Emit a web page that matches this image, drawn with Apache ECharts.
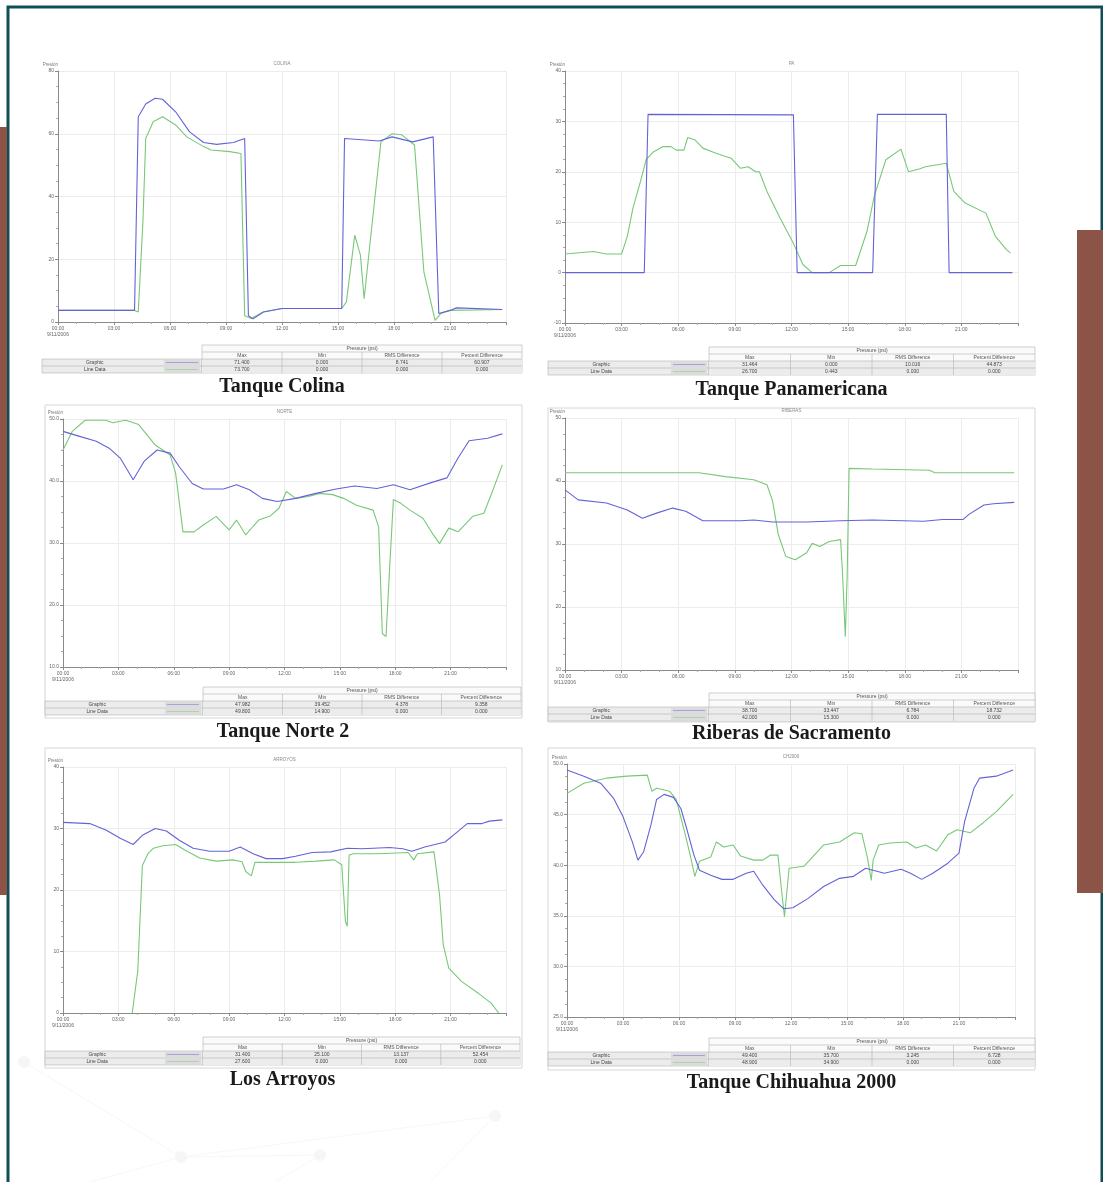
<!DOCTYPE html>
<html>
<head>
<meta charset="utf-8">
<title>Tanques - presión</title>
<script src="https://cdn.jsdelivr.net/npm/echarts@6/dist/echarts.min.js"></script>
<style>
  html, body { margin: 0; padding: 0; background: #fff; }
  #main { width: 1103px; height: 1182px; }
</style>
</head>
<body>
<div id="main"></div>
<script>
// datos: [hora, presión]
const colinaBlue = [[0,3.7],[4.1,3.7],[4.3,65.4],[4.7,69.5],[5.2,71.3],[5.6,71],[6.3,67],[7.05,60.6],[7.8,57.2],[8.5,56.6],[9.4,57.2],[10,58.5],[10.2,2],[10.45,1],[11,3.2],[12,4.3],[15.2,4.3],[15.35,58.5],[17.2,57.7],[17.9,59],[19,57.4],[20.1,59],[20.4,2.7],[21,3.7],[21.35,4.5],[23.8,4]];
const colinaGreen = [[0,3.7],[4.1,3.7],[4.3,3.2],[4.55,32],[4.7,58.5],[5.1,63.8],[5.6,65.4],[6.3,62.8],[6.9,59],[7.8,55.9],[8.2,54.8],[9.2,54.3],[9.8,53.7],[10,2],[10.35,1.1],[11,3.2],[12,4.3],[15.2,4.3],[15.45,6.4],[15.9,27.7],[16.2,21.3],[16.4,7.4],[16.8,29.8],[17.3,57.4],[17.9,60],[18.4,59.7],[19.1,56.4],[19.6,16],[20.2,0.5],[20.5,2.7],[21,3.7],[23.8,4]];

const panamBlue = [[0,0],[4.2,0],[4.4,31.4],[12.1,31.3],[12.3,0],[16.3,0],[16.55,31.4],[20.2,31.4],[20.35,0],[23.7,0]];
const panamGreen = [[0,3.7],[1.5,4.2],[2.2,3.7],[3,3.7],[3.3,7.2],[3.6,12.8],[4,18.1],[4.3,22.4],[4.7,24],[5.2,25],[5.6,25],[5.9,24.3],[6.3,24.3],[6.5,26.8],[6.9,26.3],[7.3,24.7],[8,23.7],[8.8,22.7],[9.3,20.7],[9.7,21],[10.1,20],[10.3,20],[10.7,16.1],[11.4,10.8],[12.1,5.8],[12.6,1.6],[13.1,0],[14,0],[14.6,1.4],[15.4,1.4],[16,8.2],[16.4,15.4],[17,22.4],[17.8,24.5],[18.2,20],[18.8,20.6],[19.1,21],[20.2,21.7],[20.6,16.1],[21.2,13.8],[22.3,11.8],[22.8,7.2],[23.4,4.5],[23.6,3.9]];

const norteBlue = [[0,48],[0.9,47.2],[1.8,46.4],[2.5,45.3],[3.1,43.7],[3.8,40.2],[4.4,43.2],[5.1,45],[5.8,44.5],[6.3,42.3],[7,39.6],[7.6,38.7],[8.7,38.7],[9.4,39.4],[10.1,38.6],[10.8,37.2],[11.6,36.7],[12.6,37.2],[13.7,38],[14.8,38.7],[15.8,39.2],[17,38.8],[17.9,39.4],[18.8,38.6],[19.9,39.7],[20.8,40.5],[21.4,43.7],[22,46.5],[23,46.9],[23.8,47.6]];
const norteGreen = [[0,45],[0.5,48],[1.2,49.8],[2.3,49.8],[2.7,49.4],[3.4,49.8],[4.1,49.1],[5,45.8],[5.8,44.2],[6.1,41.3],[6.5,31.8],[7.1,31.8],[7.6,32.9],[8.3,34.3],[9,32.1],[9.4,33.7],[9.9,31.3],[10.3,32.7],[10.6,33.7],[11.2,34.3],[11.7,35.6],[12.1,38.3],[12.6,37.2],[13.3,37.5],[13.9,38],[14.6,37.8],[15.2,37.2],[15.9,36.1],[16.8,35.3],[17.1,32.6],[17.3,15.4],[17.5,14.9],[17.7,26.2],[17.9,37],[18.3,36.4],[18.8,35.3],[19.5,34],[20,31.6],[20.4,29.9],[20.9,32.4],[21.4,31.8],[22.2,34.3],[22.8,34.8],[23.3,38.6],[23.8,42.6]];

const riberasBlue = [[0,38.6],[0.7,37],[2.2,36.5],[3.3,35.4],[4.1,34.1],[4.85,34.9],[5.7,35.7],[6.4,35.2],[7.3,33.7],[9.3,33.7],[10,33.8],[11,33.5],[12.8,33.5],[14.6,33.7],[16.3,33.8],[19,33.6],[20,33.9],[21.1,33.9],[21.4,34.7],[22.2,36.2],[22.7,36.4],[23.8,36.6]];
const riberasGreen = [[0,41.3],[7.1,41.3],[8.5,40.7],[10,40.2],[10.7,39.4],[11,36.8],[11.3,31.5],[11.7,28],[12.2,27.5],[12.8,28.6],[13.1,30.1],[13.5,29.6],[14,30.4],[14.6,30.7],[14.7,25.6],[14.85,15.3],[14.95,25],[15.05,42],[16.3,41.9],[19.3,41.7],[19.6,41.3],[23.8,41.3]];

const arroyosBlue = [[0,31],[1.45,30.8],[2.35,29.7],[3.1,28.4],[3.8,27.4],[4.3,28.9],[5,30],[5.6,29.6],[6.3,28.1],[7.05,26.8],[7.95,26.3],[9,26.3],[9.6,27],[10.3,25.9],[11,25.1],[11.9,25.1],[12.6,25.5],[13.5,26.1],[14.5,26.2],[15.4,26.8],[16.2,26.7],[17.7,26.9],[18.4,26.7],[18.9,26.3],[19.6,27],[20.7,27.8],[21.3,29.3],[21.9,30.8],[22.7,30.8],[23.1,31.2],[23.8,31.4]];
const arroyosGreen = [[3.75,0],[4.05,6.8],[4.3,24],[4.6,25.9],[4.9,26.8],[5.4,27.2],[6.1,27.4],[6.6,26.5],[7.4,25.2],[8.3,24.7],[9.2,24.9],[9.7,24.6],[9.9,23],[10.2,22.3],[10.4,24.5],[11.2,24.5],[12.6,24.5],[13.7,24.7],[14.7,24.9],[15.1,24.1],[15.3,14.9],[15.4,14.1],[15.5,25.7],[15.75,25.9],[17.1,25.9],[18.7,26.1],[19,24.9],[19.2,25.9],[20.1,26.2],[20.4,19.2],[20.6,11.1],[20.9,7.3],[21.6,5.1],[22.5,3.2],[23.2,1.6],[23.6,0]];

const chihuaBlue = [[0,49.4],[0.9,48.8],[1.8,48.1],[2.5,46.6],[3,44.8],[3.5,42.3],[3.8,40.5],[4.1,41.3],[4.5,44],[4.8,46.5],[5.2,47],[5.7,46.7],[6.1,45.6],[6.4,43.7],[6.8,41],[7.1,39.5],[7.7,39],[8.3,38.6],[8.9,38.6],[9.6,39.2],[10,39.4],[10.5,38],[11.1,36.6],[11.6,35.7],[12.1,35.8],[12.9,36.7],[13.75,37.9],[14.6,38.7],[15.35,38.9],[16,39.7],[16.4,39.5],[17,39.2],[17.9,39.6],[18.4,39.2],[19,38.6],[19.6,39.2],[20.4,40.2],[21,41.2],[21.3,44.3],[21.8,47.6],[22.1,48.6],[23,48.8],[23.9,49.4]];
const chihuaGreen = [[0,47.1],[0.9,48.1],[2.1,48.6],[3.2,48.8],[4.3,48.9],[4.55,47.3],[4.8,47.6],[5.5,47.3],[5.85,46.5],[6.3,43.3],[6.6,41],[6.85,38.9],[7.1,40.4],[7.7,40.8],[8,42.3],[8.4,41.8],[8.9,42],[9.3,40.9],[10,40.5],[10.5,40.5],[10.9,41],[11.3,41],[11.5,37.4],[11.65,34.9],[11.9,39.7],[12.7,39.9],[13,40.5],[13.75,42],[14.6,42.3],[15.4,43.2],[15.8,43.1],[16.1,40.7],[16.3,38.5],[16.4,40.5],[16.7,42],[17.3,42.2],[18.2,42.3],[18.7,41.7],[19.2,42],[19.8,41.4],[19.9,41.4],[20.4,43],[20.9,43.5],[21.6,43.2],[22.3,44.2],[23,45.3],[23.9,47]];

// tablas de resumen (Max, Min, RMS Difference, Percent Difference)
const rowNames = ['Graphic', 'Line Data'];
const colNames = ['Max', 'Min', 'RMS Difference', 'Percent Difference'];
const tblColina = [['71.400', '0.000', '8.741', '60.907'], ['73.700', '0.000', '0.000', '0.000']];
const tblPanam = [['31.464', '0.000', '10.016', '44.873'], ['26.700', '0.443', '0.000', '0.000']];
const tblNorte = [['47.982', '39.452', '4.378', '9.358'], ['49.800', '14.900', '0.000', '0.000']];
const tblRiberas = [['38.700', '33.447', '6.784', '18.732'], ['42.000', '15.300', '0.000', '0.000']];
const tblArroyos = [['31.400', '25.100', '13.137', '52.454'], ['27.600', '0.000', '0.000', '0.000']];
const tblChihua = [['49.400', '35.700', '3.245', '6.728'], ['48.900', '34.900', '0.000', '0.000']];

const BLUE = '#6363d6';
const GREEN = '#78c878';

const chart = echarts.init(document.getElementById('main'));

// paneles: posición de la zona de trazado en px
const panels = [
  { name: 'Tanque Colina', tag: 'COLINA', left: 58, top: 71, width: 448, height: 251, min: 0, max: 80, step: 20, dec: 0, blue: colinaBlue, green: colinaGreen, tbl: tblColina, tx: 42, ty: 345, tx1: 522, split: 202, ttl: 387 },
  { name: 'Tanque Panamericana', tag: 'PA', left: 565, top: 71, width: 453, height: 252, min: -10, max: 40, step: 10, dec: 0, blue: panamBlue, green: panamGreen, tbl: tblPanam, tx: 548, ty: 347, tx1: 1035, split: 709, ttl: 390 },
  { name: 'Tanque Norte 2', tag: 'NORTE', left: 63, top: 419, width: 443, height: 248, min: 10, max: 50, step: 10, dec: 1, blue: norteBlue, green: norteGreen, tbl: tblNorte, tx: 45, ty: 687, tx1: 521, split: 203, ttl: 732 },
  { name: 'Riberas de Sacramento', tag: 'RIBERAS', left: 565, top: 418, width: 453, height: 252, min: 10, max: 50, step: 10, dec: 0, blue: riberasBlue, green: riberasGreen, tbl: tblRiberas, tx: 548, ty: 693, tx1: 1035, split: 709, ttl: 734 },
  { name: 'Los Arroyos', tag: 'ARROYOS', left: 63, top: 767, width: 443, height: 246, min: 0, max: 40, step: 10, dec: 0, blue: arroyosBlue, green: arroyosGreen, tbl: tblArroyos, tx: 45, ty: 1037, tx1: 520, split: 203, ttl: 1080 },
  { name: 'Tanque Chihuahua 2000', tag: 'CH2000', left: 567, top: 764, width: 448, height: 253, min: 25, max: 50, step: 5, dec: 1, blue: chihuaBlue, green: chihuaGreen, tbl: tblChihua, tx: 548, ty: 1038, tx1: 1035, split: 709, ttl: 1083 }
];

const grids = [], xAxes = [], yAxes = [], series = [];
const graphics = [];

// marco y barras decorativas
graphics.push({ type: 'rect', shape: { x: 8, y: 7, width: 1094, height: 1180 }, style: { fill: null, stroke: '#0f4f57', lineWidth: 3 }, z: 1 });
graphics.push({ type: 'rect', shape: { x: 0, y: 127, width: 7, height: 768 }, style: { fill: '#8c5447' }, z: 2 });
graphics.push({ type: 'rect', shape: { x: 1077, y: 230, width: 26, height: 663 }, style: { fill: '#8c5447' }, z: 2 });

// red decorativa muy tenue abajo a la izquierda
const dots = [[24, 1062], [181, 1157], [320, 1155], [495, 1116]];
const netColor = '#f7f7f7';
[[0, 1], [1, 2], [1, 3]].forEach(p => {
  graphics.push({ type: 'line', shape: { x1: dots[p[0]][0], y1: dots[p[0]][1], x2: dots[p[1]][0], y2: dots[p[1]][1] }, style: { stroke: netColor, lineWidth: 1 }, z: 0 });
});
graphics.push({ type: 'line', shape: { x1: 181, y1: 1157, x2: 90, y2: 1182 }, style: { stroke: netColor }, z: 0 });
graphics.push({ type: 'line', shape: { x1: 320, y1: 1155, x2: 275, y2: 1182 }, style: { stroke: netColor }, z: 0 });
graphics.push({ type: 'line', shape: { x1: 495, y1: 1116, x2: 430, y2: 1182 }, style: { stroke: netColor }, z: 0 });
dots.forEach(d => graphics.push({ type: 'circle', shape: { cx: d[0], cy: d[1], r: 6 }, style: { fill: '#f6f6f6' }, z: 0 }));

function fmtHour(v) {
  if (v % 3 !== 0 || v >= 24) return '';
  const h = (v < 10 ? '0' : '') + v + ':00';
  return v === 0 ? h + '\n9/11/2006' : h;
}

function addTable(p) {
  const x0 = p.tx, y0 = p.ty, x1 = p.tx1, s = p.split, rh = 7;
  const line = '#b4b4b4';
  // parte izquierda: filas de series
  graphics.push({ type: 'rect', shape: { x: x0, y: y0 + 2 * rh, width: s - x0, height: 2 * rh }, style: { fill: '#ececec', stroke: line, lineWidth: 0.6 }, z: 3 });
  graphics.push({ type: 'line', shape: { x1: x0, y1: y0 + 3 * rh, x2: x1, y2: y0 + 3 * rh }, style: { stroke: line, lineWidth: 0.6 }, z: 4 });
  // parte derecha
  graphics.push({ type: 'rect', shape: { x: s, y: y0, width: x1 - s, height: 4 * rh }, style: { fill: '#fafafa', stroke: line, lineWidth: 0.6 }, z: 3 });
  graphics.push({ type: 'line', shape: { x1: s, y1: y0 + rh, x2: x1, y2: y0 + rh }, style: { stroke: line, lineWidth: 0.6 }, z: 4 });
  graphics.push({ type: 'line', shape: { x1: s, y1: y0 + 2 * rh, x2: x1, y2: y0 + 2 * rh }, style: { stroke: line, lineWidth: 0.6 }, z: 4 });
  graphics.push({ type: 'rect', shape: { x: s, y: y0 + 2 * rh, width: x1 - s, height: 2 * rh }, style: { fill: '#ececec' }, z: 3 });
  graphics.push({ type: 'text', x: (s + x1) / 2, y: y0 + rh / 2, style: { text: 'Pressure (psi)', fontSize: 5, fill: '#555', align: 'center', verticalAlign: 'middle' }, z: 5 });
  const cw = (x1 - s) / 4;
  colNames.forEach((c, i) => {
    if (i > 0) graphics.push({ type: 'line', shape: { x1: s + i * cw, y1: y0 + rh, x2: s + i * cw, y2: y0 + 4 * rh }, style: { stroke: line, lineWidth: 0.6 }, z: 4 });
    graphics.push({ type: 'text', x: s + (i + 0.5) * cw, y: y0 + 1.5 * rh, style: { text: c, fontSize: 5, fill: '#555', align: 'center', verticalAlign: 'middle' }, z: 5 });
    p.tbl.forEach((row, r) => {
      graphics.push({ type: 'text', x: s + (i + 0.5) * cw, y: y0 + (2.5 + r) * rh, style: { text: row[i], fontSize: 5, fill: '#444', align: 'center', verticalAlign: 'middle' }, z: 5 });
    });
  });
  rowNames.forEach((n, r) => {
    graphics.push({ type: 'text', x: x0 + (s - x0) * 0.33, y: y0 + (2.5 + r) * rh, style: { text: n, fontSize: 5, fill: '#444', align: 'center', verticalAlign: 'middle' }, z: 5 });
  });
  graphics.push({ type: 'rect', shape: { x: s - 38, y: y0 + 2 * rh + 1, width: 36, height: 2 * rh - 2 }, style: { fill: '#dcdcdc' }, z: 4 });
  graphics.push({ type: 'line', shape: { x1: s - 36, y1: y0 + 2.5 * rh, x2: s - 4, y2: y0 + 2.5 * rh }, style: { stroke: BLUE, lineWidth: 0.8, opacity: 0.6 }, z: 5 });
  graphics.push({ type: 'line', shape: { x1: s - 36, y1: y0 + 3.5 * rh, x2: s - 4, y2: y0 + 3.5 * rh }, style: { stroke: GREEN, lineWidth: 0.8, opacity: 0.6 }, z: 5 });
}

panels.forEach((p, i) => {
  grids.push({ left: p.left, top: p.top, width: p.width, height: p.height, containLabel: false });
  xAxes.push({
    gridIndex: i, type: 'value', min: 0, max: 24, interval: 3,
    axisLine: { onZero: false, lineStyle: { color: '#8a8a8a', width: 1 } },
    axisTick: { show: true, length: 3, lineStyle: { color: '#8a8a8a' } },
    minorTick: { show: true, splitNumber: 3, length: 2, lineStyle: { color: '#aaa' } },
    axisLabel: { fontSize: 5, color: '#666', formatter: fmtHour, margin: 4, lineHeight: 6 },
    splitLine: { show: true, lineStyle: { color: '#ececec', width: 1 } }
  });
  yAxes.push({
    gridIndex: i, type: 'value', min: p.min, max: p.max, interval: p.step,
    name: 'Presión', nameLocation: 'end', nameGap: 4,
    nameTextStyle: { fontSize: 4.5, color: '#777', align: 'right' },
    axisLine: { show: true, lineStyle: { color: '#8a8a8a', width: 1 } },
    axisTick: { show: true, length: 3, lineStyle: { color: '#8a8a8a' } },
    minorTick: { show: true, splitNumber: 4, length: 2, lineStyle: { color: '#aaa' } },
    axisLabel: { fontSize: 5, color: '#666', margin: 4, formatter: v => v.toFixed(p.dec) },
    splitLine: { show: true, lineStyle: { color: '#ececec', width: 1 } }
  });
  series.push({ type: 'line', xAxisIndex: i, yAxisIndex: i, data: p.green, showSymbol: false, lineStyle: { color: GREEN, width: 1.1 }, z: 2 });
  series.push({ type: 'line', xAxisIndex: i, yAxisIndex: i, data: p.blue, showSymbol: false, lineStyle: { color: BLUE, width: 1.1 }, z: 3 });

  // título pequeño del gráfico y título grande
  graphics.push({ type: 'text', x: p.left + p.width / 2, y: p.top - 10, style: { text: p.tag, fontSize: 4.5, fill: '#888', align: 'center' }, z: 5 });
  graphics.push({ type: 'text', x: (p.tx + p.tx1) / 2, y: p.ttl, style: { text: p.name, fontSize: 20, fontWeight: 'bold', fontFamily: 'Liberation Serif', fill: '#1a1a1a', align: 'center', verticalAlign: 'middle' }, z: 5 });
  addTable(p);
});

// marcos grises de algunos paneles
[[45, 405, 477, 313], [548, 408, 487, 314], [45, 748, 477, 320], [548, 748, 487, 322]].forEach(b => {
  graphics.push({ type: 'rect', shape: { x: b[0], y: b[1], width: b[2], height: b[3] }, style: { fill: null, stroke: '#d6d6d6', lineWidth: 1 }, z: 1 });
});

chart.setOption({
  backgroundColor: '#fff',
  animation: false,
  grid: grids,
  xAxis: xAxes,
  yAxis: yAxes,
  series: series,
  graphic: { elements: graphics }
});

window.addEventListener('resize', () => chart.resize());
</script>
</body>
</html>
